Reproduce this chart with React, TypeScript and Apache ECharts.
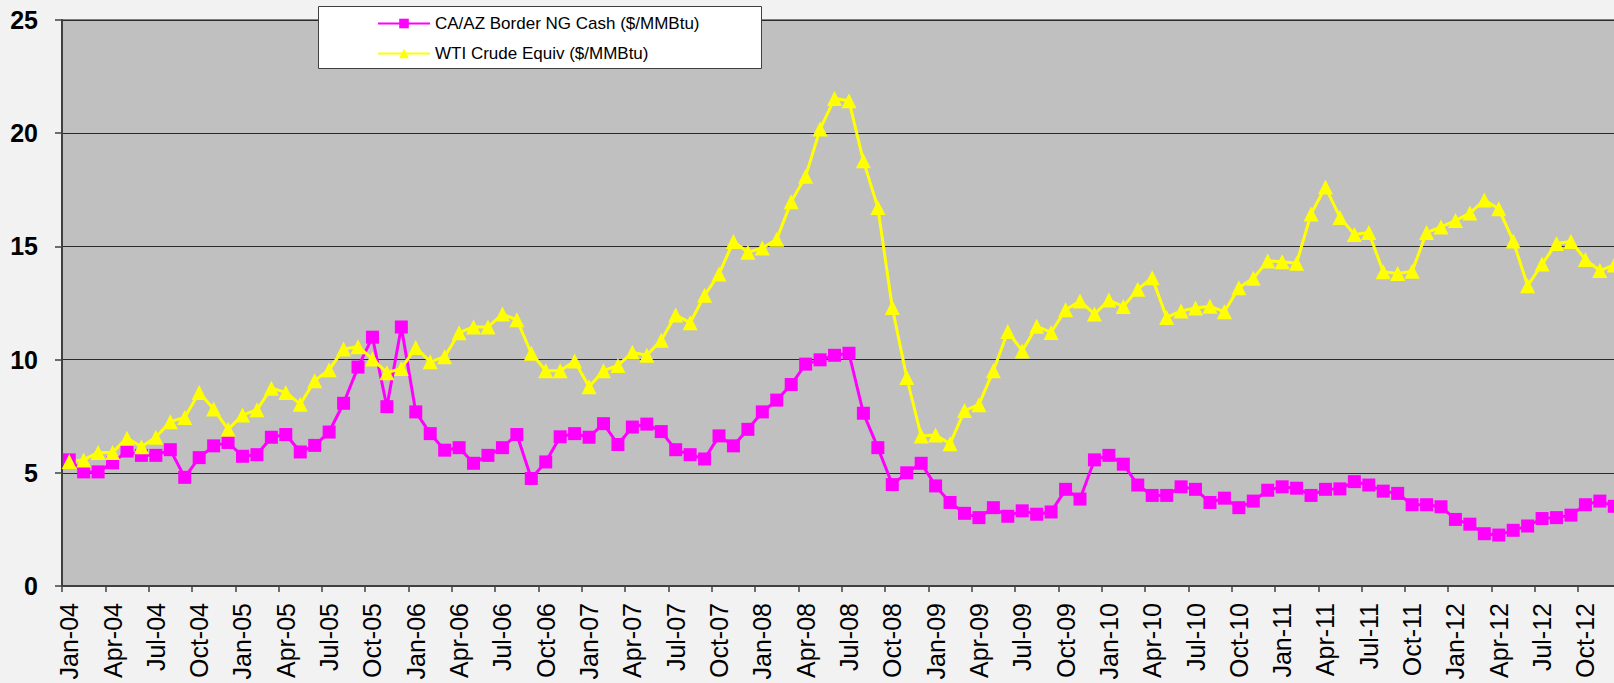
import React, { useEffect, useRef } from "react";
import * as echarts from "echarts";

const monthNames = ["Jan", "Feb", "Mar", "Apr", "May", "Jun", "Jul", "Aug", "Sep", "Oct", "Nov", "Dec"];
const years = ["04", "05", "06", "07", "08", "09", "10", "11", "12"];
const categories: string[] = years.flatMap((y) => monthNames.map((m) => `${m}-${y}`));

const ngCash2004 = [5.57, 5.04, 5.04, 5.44, 5.96, 5.77, 5.77, 6.02, 4.8, 5.67, 6.19, 6.34];
const ngCash2005 = [5.73, 5.8, 6.57, 6.69, 5.92, 6.21, 6.8, 8.07, 9.67, 10.99, 7.92, 11.44];
const ngCash2006 = [7.69, 6.73, 6.0, 6.11, 5.42, 5.77, 6.11, 6.69, 4.75, 5.48, 6.59, 6.73];
const ngCash2007 = [6.57, 7.17, 6.25, 7.02, 7.15, 6.82, 6.02, 5.8, 5.61, 6.63, 6.19, 6.92];
const ngCash2008 = [7.69, 8.21, 8.9, 9.8, 9.99, 10.19, 10.28, 7.63, 6.11, 4.48, 5.0, 5.42];
const ngCash2009 = [4.42, 3.69, 3.21, 3.02, 3.46, 3.08, 3.32, 3.17, 3.27, 4.27, 3.84, 5.57];
const ngCash2010 = [5.77, 5.38, 4.46, 4.0, 4.0, 4.38, 4.27, 3.69, 3.88, 3.46, 3.75, 4.23];
const ngCash2011 = [4.38, 4.32, 4.0, 4.27, 4.29, 4.61, 4.46, 4.19, 4.09, 3.59, 3.59, 3.5];
const ngCash2012 = [2.94, 2.73, 2.31, 2.25, 2.46, 2.65, 2.98, 3.02, 3.13, 3.59, 3.75, 3.52];

const wti2004 = [5.5, 5.57, 5.9, 5.9, 6.53, 6.15, 6.57, 7.26, 7.44, 8.55, 7.82, 6.92];
const wti2005 = [7.55, 7.78, 8.74, 8.55, 8.03, 9.07, 9.55, 10.47, 10.57, 10.03, 9.42, 9.61];
const wti2006 = [10.53, 9.9, 10.13, 11.19, 11.44, 11.44, 12.01, 11.76, 10.28, 9.51, 9.51, 9.94];
const wti2007 = [8.8, 9.51, 9.74, 10.32, 10.19, 10.86, 11.97, 11.63, 12.84, 13.78, 15.22, 14.74];
const wti2008 = [14.93, 15.32, 16.97, 18.1, 20.18, 21.53, 21.43, 18.78, 16.72, 12.3, 9.21, 6.63];
const wti2009 = [6.67, 6.28, 7.75, 8.01, 9.51, 11.24, 10.38, 11.47, 11.2, 12.2, 12.59, 12.01];
const wti2010 = [12.63, 12.34, 13.11, 13.61, 11.86, 12.15, 12.28, 12.36, 12.11, 13.17, 13.59, 14.36];
const wti2011 = [14.32, 14.26, 16.43, 17.62, 16.28, 15.53, 15.61, 13.88, 13.8, 13.9, 15.61, 15.86];
const wti2012 = [16.14, 16.47, 17.05, 16.66, 15.24, 13.26, 14.22, 15.13, 15.22, 14.42, 13.93, 14.18];

const ngCash = [
  ...ngCash2004, ...ngCash2005, ...ngCash2006, ...ngCash2007, ...ngCash2008,
  ...ngCash2009, ...ngCash2010, ...ngCash2011, ...ngCash2012,
];
const wti = [
  ...wti2004, ...wti2005, ...wti2006, ...wti2007, ...wti2008,
  ...wti2009, ...wti2010, ...wti2011, ...wti2012,
];

const seriesNames = ["CA/AZ Border NG Cash ($/MMBtu)", "WTI Crude Equiv ($/MMBtu)"];
const yTicks = { min: 0, max: 25, interval: 5 };

const FONT = '"Liberation Sans", Arial, Helvetica, sans-serif';

export default function App() {
  const ref = useRef<HTMLDivElement>(null);

  useEffect(() => {
    if (!ref.current) return;
    const chart = echarts.init(ref.current, undefined, { renderer: "svg" });
    chart.setOption({
      animation: false,
      backgroundColor: "#f2f2f2",
      textStyle: { fontFamily: FONT },
      grid: {
        left: 62,
        top: 20,
        right: 18.5,
        bottom: 97,
        show: true,
        backgroundColor: "#c0c0c0",
        borderColor: "#808080",
        borderWidth: 2,
      },
      graphic: [
        {
          type: "rect",
          z: 3,
          shape: { x: 318.5, y: 6.5, width: 443, height: 62 },
          style: { fill: "#ffffff", stroke: "#404040", lineWidth: 1 },
        },
      ],
      legend: {
        z: 5,
        orient: "vertical",
        left: 377,
        top: 15,
        padding: 0,
        itemWidth: 52,
        itemHeight: 12,
        itemGap: 13,
        data: seriesNames,
        lineStyle: { width: 2 },
        textStyle: { fontSize: 17, color: "#000", fontFamily: FONT },
      },
      xAxis: {
        type: "category",
        data: categories,
        boundaryGap: true,
        axisLine: { show: true, lineStyle: { color: "#404040", width: 2 } },
        axisTick: { show: true, interval: 2, length: 6, lineStyle: { color: "#404040", width: 1.5 } },
        axisLabel: {
          interval: 2,
          rotate: 90,
          margin: 17,
          fontSize: 25,
          color: "#000",
          fontFamily: FONT,
        },
        splitLine: { show: false },
      },
      yAxis: {
        type: "value",
        min: yTicks.min,
        max: yTicks.max,
        interval: yTicks.interval,
        axisLine: { show: true, lineStyle: { color: "#404040", width: 2 } },
        axisTick: { show: true, length: 7, lineStyle: { color: "#404040", width: 1.5 } },
        axisLabel: {
          margin: 24,
          fontSize: 25,
          fontWeight: "bold",
          color: "#000",
          fontFamily: FONT,
        },
        splitLine: { show: true, lineStyle: { color: "#2a2a2a", width: 1 } },
      },
      series: [
        {
          name: seriesNames[0],
          type: "line",
          data: ngCash,
          symbol: "rect",
          symbolSize: 13,
          showAllSymbol: true,
          lineStyle: { color: "#ff00ff", width: 3 },
          itemStyle: { color: "#ff00ff" },
        },
        {
          name: seriesNames[1],
          type: "line",
          data: wti,
          symbol: "triangle",
          symbolSize: 15,
          showAllSymbol: true,
          lineStyle: { color: "#ffff00", width: 3 },
          itemStyle: { color: "#ffff00" },
        },
      ],
    });
    return () => chart.dispose();
  }, []);

  return (
    <div
      style={{
        position: "fixed",
        left: 0,
        top: 0,
        width: 1614,
        height: 683,
        overflow: "hidden",
        background: "#f2f2f2",
      }}
    >
      <div ref={ref} style={{ width: 1640, height: 683 }} />
    </div>
  );
}
